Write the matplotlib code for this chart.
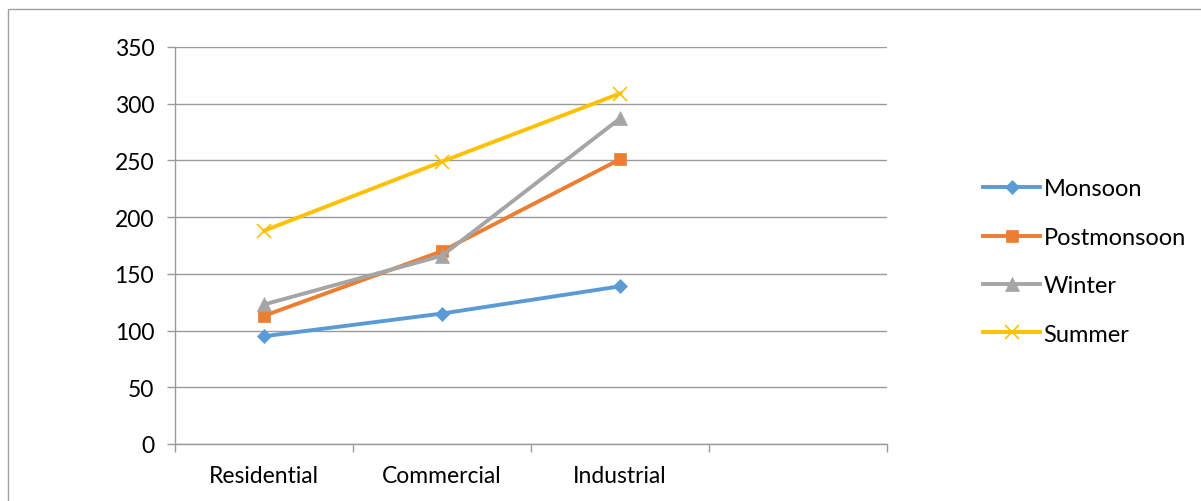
import matplotlib.pyplot as plt
from matplotlib.patches import Rectangle

categories = ["Residential", "Commercial", "Industrial", ""]
series_names = ["Monsoon", "Postmonsoon", "Winter", "Summer"]
monsoon = [95, 115, 139]
postmonsoon = [113, 170, 251]
winter = [123, 166, 287]
summer = [188, 249, 309]

colors = ["#5B9BD5", "#ED7D31", "#A5A5A5", "#FFC000"]
markers = ["D", "s", "^", "x"]
msizes = [7.5, 9, 10, 10]

plt.rcParams['font.family'] = ['Lato', 'DejaVu Sans']

fig = plt.figure(figsize=(12.01, 5.02), dpi=100)
# chart border
fig.patches.append(Rectangle((8 / 1201, -0.01), 1.0, 1 - 10 / 502 + 0.01,
                             transform=fig.transFigure, fill=False,
                             edgecolor="#A0A0A0", linewidth=1))

ax = fig.add_axes([175 / 1201, 57 / 502, 712 / 1201, 397 / 502])

x = range(3)
handles = []
for vals, name, c, m, ms in zip([monsoon, postmonsoon, winter, summer],
                                series_names, colors, markers, msizes):
    h, = ax.plot(x, vals, color=c, linewidth=2.8, marker=m, markersize=ms,
                 markeredgewidth=1.2 if m == "x" else 0.5, label=name,
                 markeredgecolor=c, markerfacecolor=c)
    handles.append(h)

n = len(categories)
ax.set_xlim(-0.5, n - 0.5)
ax.set_ylim(0, 350)
ax.set_yticks(range(0, 351, 50))
ax.grid(axis="y", color="#9A9A9A", linewidth=1)
ax.set_axisbelow(True)

ax.set_xticks([i - 0.5 for i in range(n + 1)])
ax.set_xticklabels([])
ax.set_xticks(range(n), minor=True)
ax.set_xticklabels(categories, minor=True)
ax.tick_params(axis="x", which="minor", length=0, pad=15, labelsize=16.5)
ax.tick_params(axis="x", which="major", length=6, color="#9A9A9A", width=1)
ax.tick_params(axis="y", length=6, color="#9A9A9A", width=1, labelsize=16.5, pad=9)

for s in ["top", "right"]:
    ax.spines[s].set_visible(False)
for s in ["left", "bottom"]:
    ax.spines[s].set_color("#9A9A9A")
    ax.spines[s].set_linewidth(1)

leg = fig.legend(handles=handles, loc="upper left",
                 bbox_to_anchor=(974 / 1201, 1 - 170 / 502), frameon=False,
                 fontsize=17, handlelength=2.4, handletextpad=0.15,
                 labelspacing=1.16, borderaxespad=0)

fig.savefig("out.png", dpi=100)
